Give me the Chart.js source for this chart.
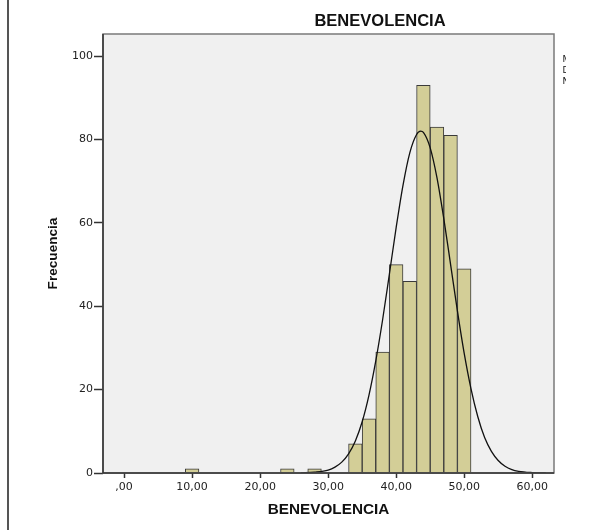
<!DOCTYPE html>
<html>
<head>
<meta charset="utf-8">
<script src="https://cdn.jsdelivr.net/npm/chart.js@4.4.1/dist/chart.umd.min.js"></script>
<style>
  html, body { margin: 0; padding: 0; background: #fff; }
  #wrap { width: 600px; height: 530px; position: relative; }
</style>
</head>
<body>
<div id="wrap"><canvas id="grafico"></canvas></div>
<script>
// --- Datos del histograma (centro de clase, ancho 2) ---
const binCenters = [10, 24, 28, 34, 36, 38, 40, 42, 44, 46, 48, 50];
const binCounts  = [1, 1, 1, 7, 13, 29, 50, 46, 93, 83, 81, 49];

// --- Curva normal ---
const curveX = [26, 28, 30, 31, 32, 33, 34, 35, 36, 37, 38, 39, 40, 41, 42, 43, 43.6, 44, 45, 46, 47, 48, 49, 50, 51, 52, 53, 54, 55, 56, 57, 58, 60, 62];
const curveY = [0.0, 0.2, 0.7, 1.4, 2.6, 4.6, 7.7, 12.3, 18.7, 26.9, 36.7, 47.7, 58.9, 69.0, 76.8, 81.2, 82.0, 81.7, 78.0, 70.8, 61.0, 50.0, 38.9, 28.7, 20.2, 13.5, 8.5, 5.2, 3.0, 1.6, 0.8, 0.4, 0.1, 0.0];

// --- Ejes ---
const xTickValues = [0, 10, 20, 30, 40, 50, 60];
const xTickLabels = [",00", "10,00", "20,00", "30,00", "40,00", "50,00", "60,00"];
const yTickValues = [0, 20, 40, 60, 80, 100];
const yTickLabels = ["0", "20", "40", "60", "80", "100"];

const titulo = "BENEVOLENCIA";
const tituloX = "BENEVOLENCIA";
const tituloY = "Frecuencia";
const leyenda = ["Media = 43,6", "Desviación típica = 4,4", "N = 454"];

// --- Fondo, marco y textos extra ---
const marcoSPSS = {
  id: "marcoSPSS",
  beforeDatasetsDraw(chart) {
    const { ctx, chartArea: a } = chart;
    ctx.save();
    ctx.fillStyle = "#f0f0f0";
    ctx.fillRect(a.left, a.top, a.right - a.left, a.bottom - a.top);
    ctx.restore();
  },
  afterDraw(chart) {
    const { ctx, chartArea: a } = chart;
    ctx.save();
    // marco del área de datos
    ctx.strokeStyle = "#7a7a7a";
    ctx.lineWidth = 1.5;
    ctx.strokeRect(a.left, a.top, a.right - a.left, a.bottom - a.top);
    ctx.strokeStyle = "#333";
    ctx.lineWidth = 1.5;
    ctx.beginPath();
    ctx.moveTo(a.left, a.top);
    ctx.lineTo(a.left, a.bottom);
    ctx.lineTo(a.right, a.bottom);
    ctx.stroke();

    // línea vertical a la izquierda
    ctx.strokeStyle = "#555";
    ctx.lineWidth = 2;
    ctx.beginPath();
    ctx.moveTo(8, 0);
    ctx.lineTo(8, 530);
    ctx.stroke();

    // título
    ctx.fillStyle = "#111";
    ctx.font = "bold 16.5px 'Liberation Sans', Arial, sans-serif";
    ctx.textAlign = "center";
    ctx.textBaseline = "middle";
    ctx.fillText(titulo, 380, 21);

    // leyenda recortada
    ctx.beginPath();
    ctx.rect(562, 40, 4, 60);
    ctx.clip();
    ctx.font = "9px 'DejaVu Sans', sans-serif";
    ctx.textAlign = "left";
    ctx.textBaseline = "alphabetic";
    leyenda.forEach((t, i) => ctx.fillText(t, 562.5, 62 + i * 11));
    ctx.restore();
  }
};

const ctx = document.getElementById("grafico").getContext("2d");
new Chart(ctx, {
  type: "bar",
  data: {
    datasets: [
      {
        type: "line",
        data: curveX.map((x, i) => ({ x, y: curveY[i] })),
        borderColor: "#111",
        borderWidth: 1.3,
        pointRadius: 0,
        fill: false,
        cubicInterpolationMode: "monotone",
        order: 0
      },
      {
        type: "bar",
        data: binCenters.map((x, i) => ({ x, y: binCounts[i] })),
        backgroundColor: "#d3ce97",
        borderColor: "#3a3a3a",
        borderWidth: 1,
        barPercentage: 1,
        categoryPercentage: 1,
        order: 1
      }
    ]
  },
  options: {
    responsive: true,
    maintainAspectRatio: false,
    animation: false,
    layout: { padding: { left: 0, right: 46, top: 34, bottom: 0 } },
    plugins: {
      legend: { display: false },
      tooltip: { enabled: false }
    },
    scales: {
      x: {
        type: "linear",
        offset: false,
        min: -3.1,
        max: 63.2,
        afterBuildTicks: s => { s.ticks = xTickValues.map(v => ({ value: v })); },
        afterFit: s => { s.height = 57; },
        grid: { display: true, offset: false, drawOnChartArea: false, color: "#333", tickLength: 5, tickWidth: 1.5 },
        border: { display: false },
        ticks: {
          color: "#222",
          font: { family: "'DejaVu Sans', sans-serif", size: 11 },
          padding: 3,
          maxRotation: 0,
          callback: v => xTickLabels[xTickValues.indexOf(v)]
        },
        title: {
          display: true,
          text: tituloX,
          color: "#111",
          font: { family: "'Liberation Sans', Arial, sans-serif", size: 15.3, weight: "bold" },
          padding: { top: 0, bottom: 10.6 }
        }
      },
      y: {
        min: 0,
        max: 105.3,
        afterBuildTicks: s => { s.ticks = yTickValues.map(v => ({ value: v })); },
        afterFit: s => { s.width = 103; },
        grid: { display: true, drawOnChartArea: false, color: "#333", tickLength: 9, tickWidth: 1.5 },
        border: { display: false },
        ticks: {
          color: "#222",
          font: { family: "'DejaVu Sans', sans-serif", size: 11 },
          padding: 1,
          callback: v => yTickLabels[yTickValues.indexOf(v)]
        },
        title: {
          display: true,
          text: tituloY,
          color: "#111",
          font: { family: "'Liberation Sans', Arial, sans-serif", size: 13.6, weight: "bold" },
          padding: { top: 44.8, bottom: 0 }
        }
      }
    }
  },
  plugins: [marcoSPSS]
});
</script>
</body>
</html>
